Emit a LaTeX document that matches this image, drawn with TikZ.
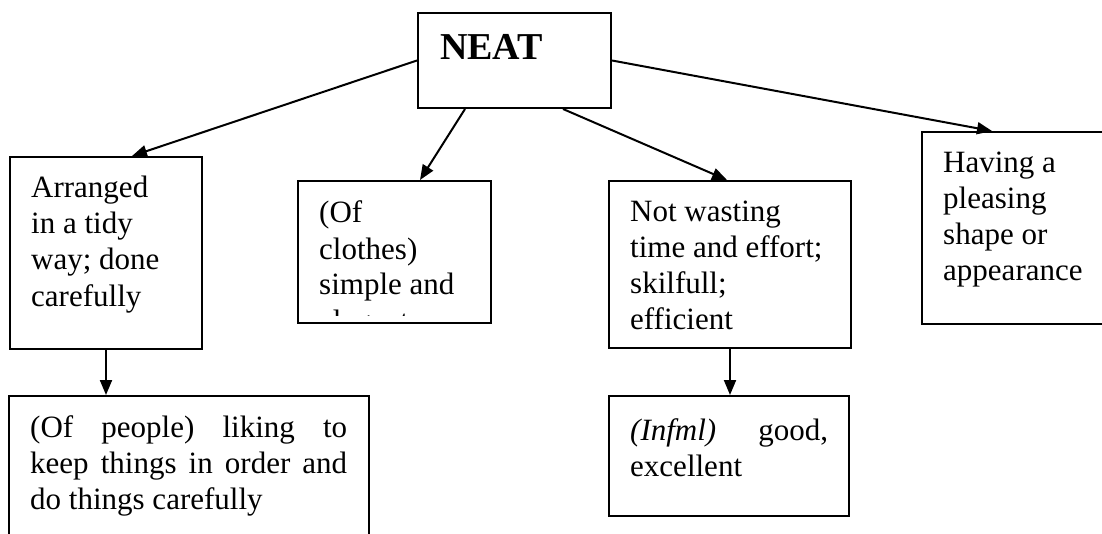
\documentclass[tikz,border=0pt]{standalone}
\usepackage{fontspec}
\setmainfont{Liberation Serif}
\usetikzlibrary{arrows.meta}

\tikzset{
  box/.style={draw, line width=2pt, rectangle, inner sep=0pt},
  % multi-line labels sit on the baseline of their last line
  txt/.style={anchor=base west, inner sep=0pt, align=left,
    font=\fontsize{31}{36}\selectfont},
  link/.style={line width=2pt, -{Triangle[length=15pt,width=12pt]}},
}

\begin{document}
\begin{tikzpicture}[x=1pt, y=-1pt]
  \useasboundingbox (0,0) rectangle (1102,534);

  % boxes
  \node[box, minimum width=193pt, minimum height=95pt]  (neat)    at (514.5,60.5) {};
  \node[box, minimum width=192pt, minimum height=192pt] (arr)     at (106,253) {};
  \node[box, minimum width=193pt, minimum height=142pt] (clothes) at (394.5,252) {};
  \node[box, minimum width=242pt, minimum height=167pt] (waste)   at (730,264.5) {};
  \node[box, minimum width=200pt, minimum height=192pt] (having)  at (1022,228) {};
  \node[box, minimum width=360pt, minimum height=164pt] (people)  at (189,478) {};
  \node[box, minimum width=240pt, minimum height=120pt] (infml)   at (729,456) {};

  % texts
  \node[anchor=base west, inner sep=0pt, font=\fontsize{38}{42}\selectfont\bfseries]
    (neattext) at (440,60) {NEAT};
  \node[txt] (arrtext) at (31,306) {Arranged\\in a tidy\\way; done\\carefully};
  \begin{scope}
    \clip (299,182) rectangle (490,316);
    \node[txt] (clothestext) at (319,331) {(Of\\clothes)\\simple and\\elegant};
  \end{scope}
  \node[txt] (wastetext) at (630,330) {Not wasting\\time and effort;\\skilfull;\\efficient};
  \node[txt] (havingtext) at (943,281) {Having a\\pleasing\\shape or\\appearance};
  \node[txt] (peopletext) at (30,509)
    {\makebox[317pt][s]{(Of people) liking to}\\
     \makebox[317pt][s]{keep things in order and}\\
     do things carefully};
  \node[txt] (infmltext) at (630,476)
    {\makebox[198pt][s]{\textit{(Infml)} good,}\\excellent};

  % connectors
  \draw[link] (neat.west) -- ([xshift=26pt]arr.north);
  \draw[link] ([xshift=-49.5pt]neat.south) -- ([xshift=25.5pt]clothes.north);
  \draw[link] ([xshift=48.5pt]neat.south) -- ([xshift=-3pt]waste.north);
  \draw[link] (neat.east) -- ([xshift=-30pt]having.north);
  \draw[link] (arr.south) -- (arr.south |- people.north);
  \draw[link] (waste.south) -- (waste.south |- infml.north);
\end{tikzpicture}
\end{document}
